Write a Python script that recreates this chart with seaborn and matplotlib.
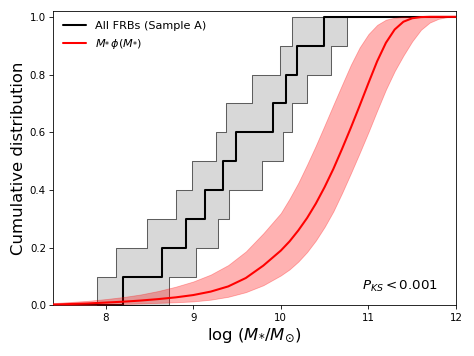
import numpy as np
import matplotlib
matplotlib.use("Agg")
import matplotlib.pyplot as plt
import seaborn as sns

# ---- data ----
# FRB host stellar masses, log(M*/Msun), sorted (black ECDF steps)
frb_logm = [8.20, 8.64, 8.92, 9.13, 9.34, 9.49, 9.91, 10.06, 10.19, 10.49]
# left (upper) edge of the uncertainty band
frb_logm_low = [7.905, 8.12, 8.47, 8.80, 8.985, 9.26, 9.37, 9.67, 9.99, 10.13]
# right (lower) edge of the uncertainty band
frb_logm_high = [8.72, 9.035, 9.28, 9.41, 9.78, 10.02, 10.13, 10.30, 10.57, 10.76]
cdf_levels = [0.1, 0.2, 0.3, 0.4, 0.5, 0.6, 0.7, 0.8, 0.9, 1.0]

# mass-weighted stellar mass function CDF, M* phi(M*)
mass_grid = [7.4, 7.6, 7.8, 8.0, 8.2, 8.4, 8.6, 8.8, 9.0, 9.2, 9.4, 9.6, 9.8,
             10.0, 10.1, 10.2, 10.3, 10.4, 10.5, 10.6, 10.7, 10.8, 10.9, 11.0,
             11.1, 11.2, 11.3, 11.4, 11.5, 11.6, 11.7, 11.8, 11.9, 12.0]
smf_cdf_mid = [0.003, 0.005, 0.007, 0.010, 0.013, 0.017, 0.022, 0.028, 0.036,
               0.048, 0.066, 0.095, 0.138, 0.19, 0.222, 0.260, 0.303, 0.353,
               0.410, 0.473, 0.543, 0.616, 0.692, 0.770, 0.846, 0.910, 0.956,
               0.983, 0.995, 0.999, 1.0, 1.0, 1.0, 1.0]
smf_cdf_up = [0.008, 0.012, 0.016, 0.022, 0.029, 0.038, 0.05, 0.065, 0.083,
              0.107, 0.140, 0.187, 0.25, 0.32, 0.37, 0.425, 0.488, 0.554,
              0.624, 0.695, 0.765, 0.834, 0.894, 0.940, 0.972, 0.99, 0.997,
              1.0, 1.0, 1.0, 1.0, 1.0, 1.0, 1.0]
smf_cdf_lo = [0.0005, 0.001, 0.002, 0.003, 0.005, 0.007, 0.009, 0.011, 0.014,
              0.020, 0.030, 0.046, 0.07, 0.104, 0.125, 0.152, 0.185, 0.225,
              0.272, 0.326, 0.39, 0.458, 0.528, 0.60, 0.675, 0.748, 0.812,
              0.866, 0.915, 0.955, 0.98, 0.993, 0.999, 1.0]

x_ticks = [8, 9, 10, 11, 12]
y_ticks = [0.0, 0.2, 0.4, 0.6, 0.8, 1.0]
x_limits = (7.4, 12.0)
y_limits = (0.0, 1.02)

# ---- plot ----
sns.set_style("ticks")
plt.rcParams.update({
    "font.family": ["DejaVu Sans"],
    "mathtext.fontset": "dejavusans",
    "text.color": "black",
    "axes.labelcolor": "black",
    "xtick.color": "black",
    "ytick.color": "black",
    "axes.edgecolor": "black",
})

fig = plt.figure(figsize=(474 / 74, 356 / 74), dpi=74)
ax = fig.add_axes([0.112, 0.142, 0.850, 0.827])

# grey band (step, along y)
band_y = np.r_[0.0, cdf_levels]
band_x1 = np.r_[frb_logm_low, frb_logm_low[-1]]
band_x2 = np.r_[frb_logm_high, frb_logm_high[-1]]
ax.fill_betweenx(band_y, band_x1, band_x2, step="post",
                 facecolor=(0.5, 0.5, 0.5, 0.3), edgecolor=(0, 0, 0, 0.6),
                 linewidth=1.0, zorder=1)

# black ECDF
ax.step(np.r_[x_limits[0], frb_logm, x_limits[1]],
        np.r_[0.0, cdf_levels, cdf_levels[-1]],
        where="post", color="black", lw=2, zorder=2,
        label="All FRBs (Sample A)")

# red band + line
ax.fill_between(mass_grid, smf_cdf_lo, smf_cdf_up, color="red", alpha=0.3,
                lw=0.8, zorder=3)
sns.lineplot(x=mass_grid, y=smf_cdf_mid, color="red", lw=2, ax=ax, zorder=4,
             label=r"$M_{*}\,\phi(M_{*})$")

ax.set_xlim(*x_limits)
ax.set_ylim(*y_limits)
ax.set_xticks(x_ticks)
ax.set_yticks(y_ticks)
ax.set_yticklabels([f"{v:.1f}" for v in y_ticks])
ax.tick_params(labelsize=10, direction="out", length=3.5, width=0.8,
               colors="black")
for s in ax.spines.values():
    s.set_linewidth(0.8)
    s.set_color("black")

ax.set_xlabel(r"log $(M_{*}/M_{\odot})$", fontsize=16)
ax.set_ylabel("Cumulative distribution", fontsize=16)

leg = ax.legend(loc="upper left", frameon=False, fontsize=11)
for t in leg.get_texts():
    t.set_color("black")
ax.text(0.955, 0.065, r"$P_{KS} < 0.001$", transform=ax.transAxes,
        ha="right", va="center", fontsize=13, color="black")

fig.savefig("out.png", dpi=74)
